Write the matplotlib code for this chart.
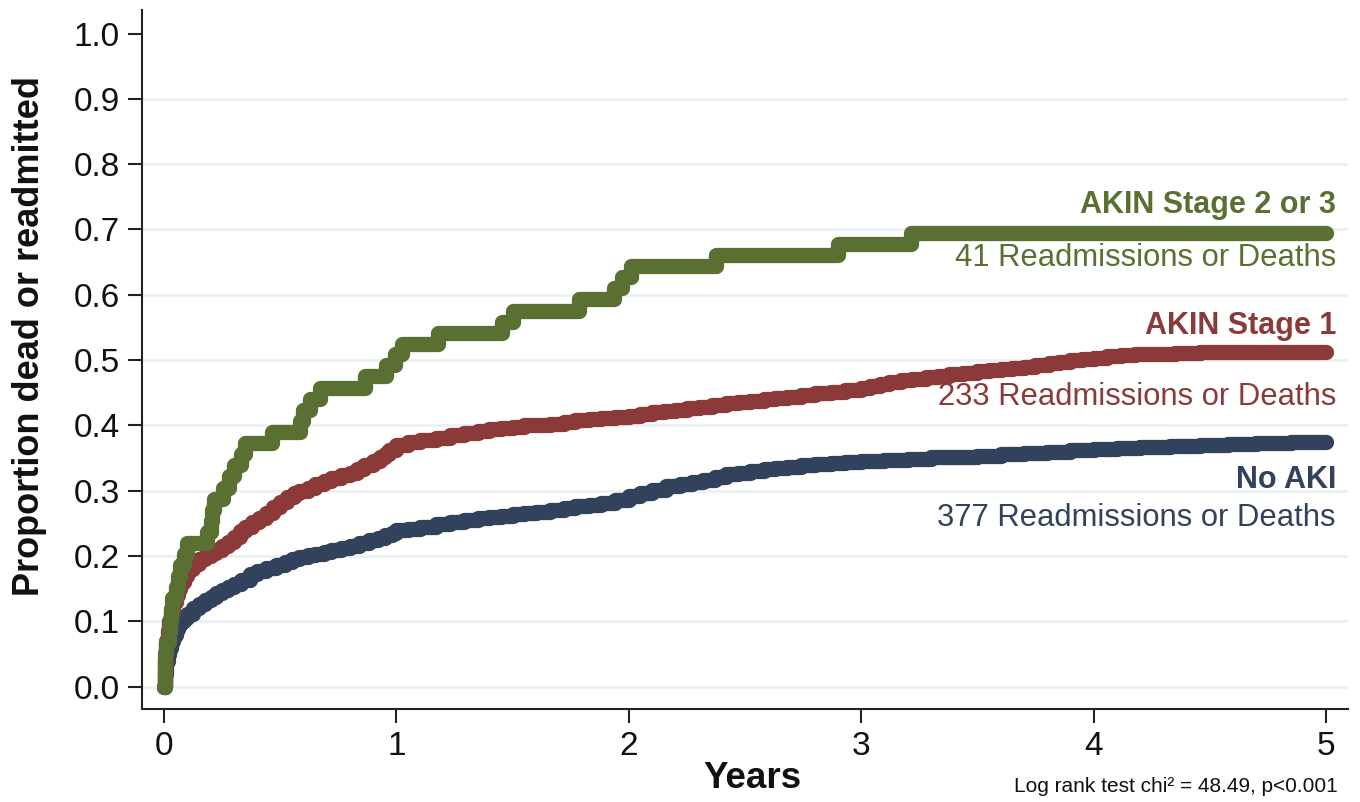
import matplotlib
matplotlib.use('Agg')
import matplotlib.pyplot as plt

# Kaplan-Meier style cumulative incidence
# AKIN Stage 2 or 3 (41 events)
t_akin23 = [0, 0.002, 0.004, 0.006, 0.008, 0.02, 0.025, 0.03, 0.035, 0.05, 0.06,
            0.07, 0.085, 0.1, 0.185, 0.2, 0.205, 0.215, 0.255, 0.28, 0.3, 0.33,
            0.35, 0.465, 0.585, 0.6, 0.63, 0.67, 0.865, 0.955, 0.995, 1.025,
            1.18, 1.455, 1.5, 1.785, 1.935, 1.97, 2.01, 2.375, 2.9, 3.215, 5.0]
p_akin23 = [0, 0.017, 0.034, 0.051, 0.068, 0.085, 0.102, 0.119, 0.136, 0.153, 0.169,
            0.186, 0.203, 0.22, 0.237, 0.254, 0.271, 0.288, 0.305, 0.322, 0.339, 0.356,
            0.373, 0.39, 0.407, 0.424, 0.441, 0.458, 0.475, 0.492, 0.509, 0.525,
            0.542, 0.559, 0.576, 0.593, 0.61, 0.627, 0.644, 0.661, 0.678, 0.695, 0.695]

# AKIN Stage 1 (233 events)
t_akin1 = [0, 0.005, 0.01, 0.015, 0.02, 0.03, 0.04, 0.05, 0.06, 0.07, 0.085, 0.1,
           0.125, 0.15, 0.175, 0.2, 0.225, 0.25, 0.275, 0.3, 0.325, 0.35, 0.38, 0.41,
           0.44, 0.47, 0.5, 0.53, 0.56, 0.58, 0.62, 0.65, 0.69, 0.72, 0.76, 0.8,
           0.83, 0.86, 0.9, 0.93, 0.95, 0.97, 1.0, 1.05, 1.1, 1.17, 1.23, 1.29,
           1.35, 1.4, 1.45, 1.5, 1.55, 1.6, 1.66, 1.72, 1.77, 1.83, 1.88, 1.94,
           2.0, 2.05, 2.1, 2.15, 2.2, 2.25, 2.3, 2.36, 2.42, 2.47, 2.52, 2.58,
           2.63, 2.68, 2.74, 2.8, 2.87, 2.93, 3.0, 3.04, 3.08, 3.12, 3.17, 3.22,
           3.28, 3.33, 3.38, 3.44, 3.5, 3.55, 3.6, 3.65, 3.7, 3.75, 3.81, 3.85,
           3.9, 3.95, 4.0, 4.06, 4.12, 4.18, 4.24, 4.3, 4.35, 4.4, 4.46, 4.58,
           4.7, 5.0]
p_akin1 = [0, 0.04, 0.07, 0.085, 0.1, 0.115, 0.13, 0.14, 0.15, 0.16, 0.17, 0.18,
           0.188, 0.195, 0.2, 0.205, 0.21, 0.215, 0.222, 0.23, 0.238, 0.245, 0.252, 0.258,
           0.266, 0.275, 0.283, 0.29, 0.296, 0.3, 0.305, 0.31, 0.315, 0.32, 0.324, 0.327,
           0.333, 0.34, 0.346, 0.352, 0.357, 0.362, 0.37, 0.374, 0.378, 0.381, 0.385, 0.388,
           0.392, 0.394, 0.396, 0.398, 0.4, 0.401, 0.403, 0.405, 0.408, 0.41, 0.412, 0.413,
           0.415, 0.417, 0.42, 0.422, 0.424, 0.426, 0.429, 0.431, 0.434, 0.436, 0.438, 0.44,
           0.442, 0.444, 0.446, 0.449, 0.452, 0.455, 0.458, 0.46, 0.463, 0.466, 0.469, 0.471,
           0.474, 0.476, 0.479, 0.481, 0.484, 0.485, 0.486, 0.488, 0.49, 0.492, 0.495, 0.497,
           0.5, 0.502, 0.504, 0.506, 0.508, 0.509, 0.51, 0.51, 0.511, 0.511, 0.512, 0.512,
           0.513, 0.513]

# No AKI (377 events)
t_noaki = [0, 0.005, 0.01, 0.015, 0.02, 0.03, 0.04, 0.05, 0.06, 0.07, 0.085, 0.1,
           0.125, 0.15, 0.175, 0.2, 0.225, 0.25, 0.275, 0.3, 0.33, 0.37, 0.4, 0.44,
           0.48, 0.52, 0.55, 0.58, 0.62, 0.65, 0.69, 0.72, 0.76, 0.8, 0.84, 0.88,
           0.92, 0.95, 0.98, 1.0, 1.05, 1.1, 1.17, 1.23, 1.29, 1.35, 1.4, 1.45,
           1.5, 1.55, 1.6, 1.66, 1.72, 1.77, 1.83, 1.88, 1.94, 2.0, 2.05, 2.1,
           2.16, 2.22, 2.27, 2.32, 2.37, 2.42, 2.47, 2.52, 2.58, 2.63, 2.68, 2.74,
           2.8, 2.87, 2.93, 3.0, 3.1, 3.2, 3.3, 3.38, 3.5, 3.6, 3.7, 3.8,
           3.9, 4.0, 4.1, 4.2, 4.33, 4.46, 4.58, 4.7, 4.85, 5.0]
p_noaki = [0, 0.02, 0.04, 0.05, 0.06, 0.07, 0.08, 0.088, 0.095, 0.1, 0.105, 0.112,
           0.12, 0.127, 0.133, 0.138, 0.143, 0.148, 0.153, 0.158, 0.164, 0.172, 0.177, 0.182,
           0.187, 0.191, 0.195, 0.198, 0.201, 0.204, 0.207, 0.209, 0.212, 0.216, 0.22, 0.224,
           0.228, 0.232, 0.236, 0.24, 0.242, 0.245, 0.249, 0.252, 0.255, 0.258, 0.26, 0.262,
           0.264, 0.266, 0.268, 0.27, 0.273, 0.276, 0.279, 0.282, 0.286, 0.292, 0.297, 0.302,
           0.307, 0.311, 0.314, 0.317, 0.321, 0.325, 0.328, 0.331, 0.333, 0.335, 0.337, 0.339,
           0.341, 0.343, 0.344, 0.345, 0.347, 0.349, 0.351, 0.352, 0.354, 0.356, 0.358, 0.36,
           0.362, 0.364, 0.366, 0.367, 0.369, 0.37, 0.372, 0.373, 0.374, 0.375]

series_names = ['No AKI', 'AKIN Stage 1', 'AKIN Stage 2 or 3']
event_labels = ['377 Readmissions or Deaths', '233 Readmissions or Deaths',
                '41 Readmissions or Deaths']
colors = ['#32415c', '#8b3939', '#5a6f32']

y_ticks = [0.0, 0.1, 0.2, 0.3, 0.4, 0.5, 0.6, 0.7, 0.8, 0.9, 1.0]
x_ticks = [0, 1, 2, 3, 4, 5]

plt.rcParams['font.family'] = ['Liberation Sans', 'DejaVu Sans']

fig = plt.figure(figsize=(13.6, 8.02), dpi=100)
ax = fig.add_axes([142 / 1360, 1 - 709 / 802, 1206 / 1360, 699 / 802])

# horizontal grid (not at 1.0)
for yv in y_ticks[:-1]:
    ax.axhline(yv, color='#eaf0f5', lw=2, zorder=0)

curves = [(t_noaki, p_noaki), (t_akin1, p_akin1), (t_akin23, p_akin23)]
for (t, p), c in zip(curves, colors):
    ax.plot(t, p, drawstyle='steps-post', color=c, lw=11,
            solid_capstyle='round', solid_joinstyle='round', zorder=2)

ax.set_xlim(-0.095, 5.095)
ax.set_ylim(-0.034, 1.036)
ax.set_xticks(x_ticks)
ax.set_xticklabels([str(v) for v in x_ticks])
ax.set_yticks(y_ticks)
ax.set_yticklabels([f'{v:.1f}' for v in y_ticks])
ax.tick_params(axis='both', length=10, width=1.5, color='#222222',
               labelsize=24, labelcolor='#111111', pad=6)
ax.spines['top'].set_visible(False)
ax.spines['right'].set_visible(False)
for s in ['left', 'bottom']:
    ax.spines[s].set_linewidth(1.5)
    ax.spines[s].set_color('#222222')

# labels at the right end of the curves
name_y = [0.316, 0.553, 0.737]
count_y = [0.258, 0.443, 0.656]
for name, lab, c, ny, cy in zip(series_names, event_labels, colors, name_y, count_y):
    ax.text(5.043, ny, name, color=c, fontsize=22, fontweight='bold',
            ha='right', va='center')
    ax.text(5.043, cy, lab, color=c, fontsize=22.3, ha='right', va='center')

fig.text(30 / 1360, 1 - 336 / 802, 'Proportion dead or readmitted', rotation=90,
         fontsize=26, fontweight='bold', ha='center', va='center', color='#111111')
fig.text(752 / 1360, 1 - 778 / 802, 'Years', fontsize=26.5, fontweight='bold',
         ha='center', va='center', color='#111111')
fig.text(1338 / 1360, 1 - 787 / 802, 'Log rank test chi\u00b2 = 48.49, p<0.001',
         fontsize=15, ha='right', va='center', color='#111111')

fig.savefig('out.png', dpi=100)
